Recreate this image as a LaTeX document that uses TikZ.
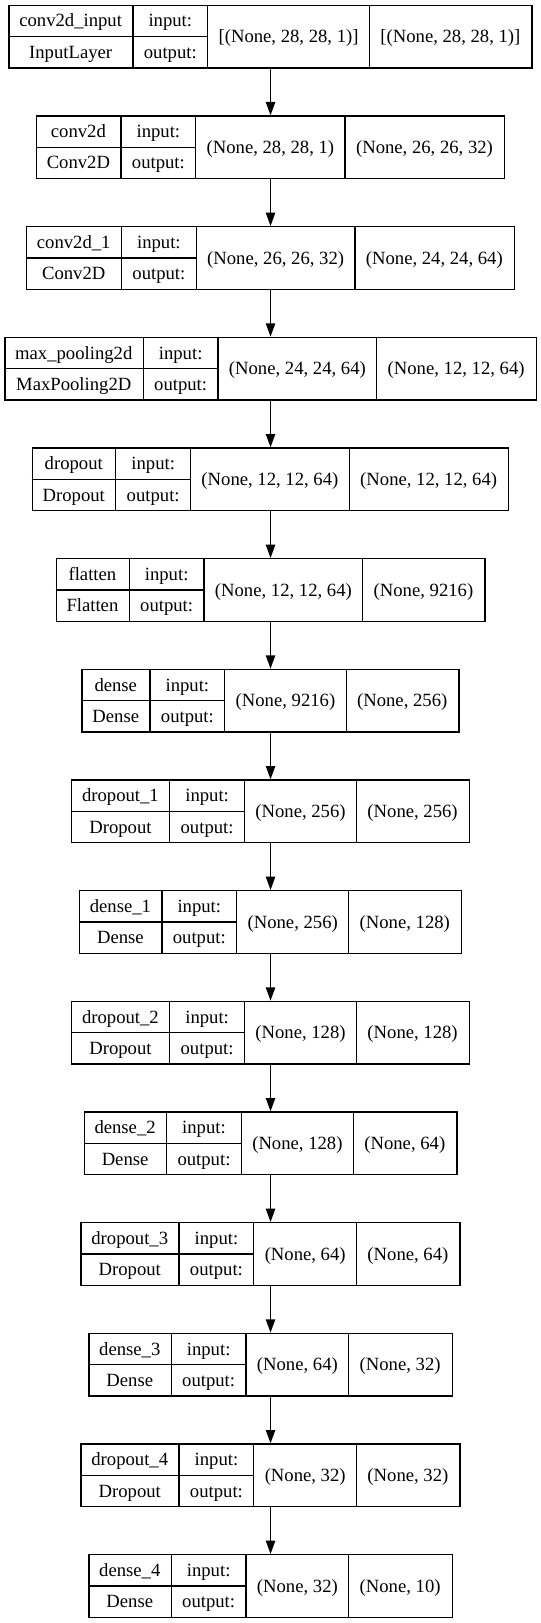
\documentclass[tikz,border=0pt]{standalone}
\usepackage{fontspec}
\setmainfont{Liberation Serif}
\newfontfamily\kserif{Liberation Serif}
\usetikzlibrary{arrows.meta,calc}
\newlength\kLA \newlength\kLB \newlength\kLC \newlength\kLD \newlength\kLT \newlength\kTmp
\newcommand\kfont{\kserif\fontsize{14pt}{16.8pt}\selectfont}
\newcommand\kcellpad{16.4pt}
\tikzset{
  layerbox/.style={draw=black, line width=1pt, rectangle, minimum height=47pt, inner sep=0pt},
  cellline/.style={draw=black, line width=1pt},
  celltext/.style={anchor=base, inner sep=0pt, font=\kfont},
  flowarrow/.style={draw=black, line width=1pt, -{Triangle[length=10pt,width=7pt]}},
}
% measuring pass (outside the picture)
\newcommand\kerasMeasure[6]{%
  \settowidth\kLA{\kfont #3}\settowidth\kTmp{\kfont #4}%
  \ifdim\kTmp>\kLA \kLA=\kTmp\fi
  \addtolength\kLA{\kcellpad}%
  \settowidth\kLC{\kfont #5}\addtolength\kLC{\kcellpad}%
  \settowidth\kLD{\kfont #6}\addtolength\kLD{\kcellpad}%
  \expandafter\xdef\csname kw#1A\endcsname{\the\kLA}%
  \expandafter\xdef\csname kw#1C\endcsname{\the\kLC}%
  \expandafter\xdef\csname kw#1D\endcsname{\the\kLD}%
}
% drawing pass (inside the picture)
\newcommand\kerasLayer[6]{%
  \kLA=\csname kw#1A\endcsname\relax
  \kLB=\kwB\relax
  \kLC=\csname kw#1C\endcsname\relax
  \kLD=\csname kw#1D\endcsname\relax
  \kLT=\kLA \advance\kLT by \kLB \advance\kLT by \kLC \advance\kLT by \kLD
  \pgfmathsetlengthmacro\kYc{-(27.5pt+83pt*#2)}%
  \node[layerbox, minimum width=\kLT] (#1) at (202.9pt,\kYc) {};
  \draw[cellline] ([xshift=\kLA]#1.north west) -- ([xshift=\kLA]#1.south west);
  \draw[cellline] ([xshift=\kLA+\kLB]#1.north west) -- ([xshift=\kLA+\kLB]#1.south west);
  \draw[cellline] ([xshift=\kLA+\kLB+\kLC]#1.north west) -- ([xshift=\kLA+\kLB+\kLC]#1.south west);
  \draw[cellline] (#1.west) -- ([xshift=\kLA+\kLB]#1.west);
  \node[celltext] (#1-name) at ([xshift=0.5\kLA, yshift=7.25pt]#1.west) {#3};
  \node[celltext] (#1-type) at ([xshift=0.5\kLA, yshift=-16.25pt]#1.west) {#4};
  \node[celltext] (#1-inl) at ([xshift=\kLA+0.5\kLB, yshift=7.25pt]#1.west) {input:};
  \node[celltext] (#1-outl) at ([xshift=\kLA+0.5\kLB, yshift=-16.25pt]#1.west) {output:};
  \node[celltext] (#1-in) at ([xshift=\kLA+\kLB+0.5\kLC, yshift=-4.5pt]#1.west) {#5};
  \node[celltext] (#1-out) at ([xshift=\kLA+\kLB+\kLC+0.5\kLD, yshift=-4.5pt]#1.west) {#6};
}
\newcommand\kerasData{%
\kerasItem{L0}{0}{conv2d\_input}{InputLayer}{[(None, 28, 28, 1)]}{[(None, 28, 28, 1)]}%
\kerasItem{L1}{1}{conv2d}{Conv2D}{(None, 28, 28, 1)}{(None, 26, 26, 32)}%
\kerasItem{L2}{2}{conv2d\_1}{Conv2D}{(None, 26, 26, 32)}{(None, 24, 24, 64)}%
\kerasItem{L3}{3}{max\_pooling2d}{MaxPooling2D}{(None, 24, 24, 64)}{(None, 12, 12, 64)}%
\kerasItem{L4}{4}{dropout}{Dropout}{(None, 12, 12, 64)}{(None, 12, 12, 64)}%
\kerasItem{L5}{5}{flatten}{Flatten}{(None, 12, 12, 64)}{(None, 9216)}%
\kerasItem{L6}{6}{dense}{Dense}{(None, 9216)}{(None, 256)}%
\kerasItem{L7}{7}{dropout\_1}{Dropout}{(None, 256)}{(None, 256)}%
\kerasItem{L8}{8}{dense\_1}{Dense}{(None, 256)}{(None, 128)}%
\kerasItem{L9}{9}{dropout\_2}{Dropout}{(None, 128)}{(None, 128)}%
\kerasItem{L10}{10}{dense\_2}{Dense}{(None, 128)}{(None, 64)}%
\kerasItem{L11}{11}{dropout\_3}{Dropout}{(None, 64)}{(None, 64)}%
\kerasItem{L12}{12}{dense\_3}{Dense}{(None, 64)}{(None, 32)}%
\kerasItem{L13}{13}{dropout\_4}{Dropout}{(None, 32)}{(None, 32)}%
\kerasItem{L14}{14}{dense\_4}{Dense}{(None, 32)}{(None, 10)}%
}
\begin{document}
\settowidth\kLB{\kfont output:}\addtolength\kLB{\kcellpad}\xdef\kwB{\the\kLB}%
\let\kerasItem\kerasMeasure
\kerasData
\begin{tikzpicture}
\useasboundingbox[fill=white] (0,0) rectangle (405.75pt,-1217.25pt);
\let\kerasItem\kerasLayer
\kerasData
\foreach \a/\b in {L0/L1,L1/L2,L2/L3,L3/L4,L4/L5,L5/L6,L6/L7,L7/L8,L8/L9,L9/L10,L10/L11,L11/L12,L12/L13,L13/L14}
  \draw[flowarrow] (\a.south) -- (\b.north);
\end{tikzpicture}
\end{document}
